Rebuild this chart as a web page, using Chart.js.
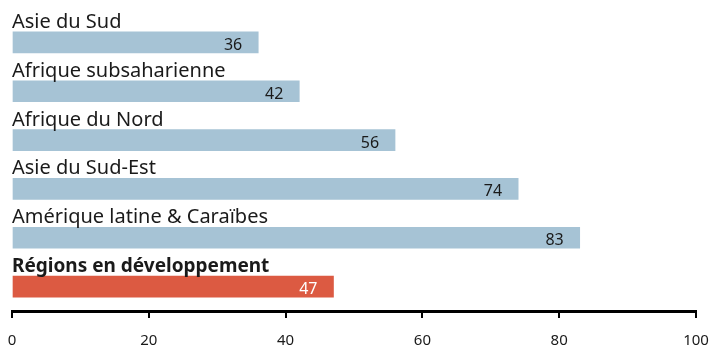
<!DOCTYPE html>
<html>
<head>
<meta charset="utf-8">
<script src="https://cdn.jsdelivr.net/npm/chart.js@4.4.0/dist/chart.umd.min.js"></script>
<style>
  body { margin: 0; background: #fff; }
  #wrap { width: 711px; height: 352px; }
</style>
</head>
<body>
<div id="wrap"><canvas id="chart"></canvas></div>
<script>
const regions = ['Asie du Sud', 'Afrique subsaharienne', 'Afrique du Nord', 'Asie du Sud-Est', 'Amérique latine & Caraïbes', 'Régions en développement']
const values = [36, 42, 56, 74, 83, 47]
const barColors = ['#a6c3d5', '#a6c3d5', '#a6c3d5', '#a6c3d5', '#a6c3d5', '#dc5a42']
const xTicks = [0, 20, 40, 60, 80, 100]

const FONT = '"Noto Sans", sans-serif'

// region name above each bar, value inside the bar end
const barText = {
    id: 'barText',
    afterDatasetsDraw(chart) {
        const ctx = chart.ctx
        const meta = chart.getDatasetMeta(0)
        const left = chart.scales.x.getPixelForValue(0)
        ctx.save()
        meta.data.forEach((bar, i) => {
            const top = bar.y - bar.height / 2
            const bottom = bar.y + bar.height / 2
            const last = i == regions.length - 1
            ctx.textAlign = 'left'
            ctx.textBaseline = 'alphabetic'
            ctx.fillStyle = '#1a1a1a'
            ctx.font = last ? 'bold 19px ' + FONT : '20px ' + FONT
            ctx.fillText(regions[i], left, top - 4)
            ctx.textAlign = 'right'
            ctx.font = '16px ' + FONT
            ctx.fillStyle = last ? '#ffffff' : '#1a1a1a'
            ctx.fillText(values[i], bar.x - 16, bottom - 3)
        })
        ctx.restore()
    }
}

new Chart(document.getElementById('chart').getContext('2d'), {
    type: 'bar',
    data: {
        labels: regions,
        datasets: [{
            data: values,
            backgroundColor: barColors,
            borderWidth: 0,
            barThickness: 21
        }]
    },
    options: {
        indexAxis: 'y',
        responsive: true,
        maintainAspectRatio: false,
        animation: false,
        layout: { padding: { left: 12, right: 15, top: 18, bottom: 0 } },
        plugins: {
            legend: { display: false },
            tooltip: { enabled: false }
        },
        scales: {
            y: { display: false },
            x: {
                min: 0,
                max: 100,
                afterBuildTicks: (axis) => { axis.ticks = xTicks.map(v => ({ value: v })) },
                afterFit: (axis) => {
                    axis.paddingLeft = 0
                    axis.paddingRight = 0
                    axis.height = 41
                },
                border: { display: true, color: '#000', width: 3 },
                grid: { drawOnChartArea: false, drawTicks: true, tickLength: 7, color: '#000', lineWidth: 2 },
                ticks: { color: '#1a1a1a', font: { family: FONT, size: 15 }, padding: 14, maxRotation: 0 }
            }
        }
    },
    plugins: [barText]
})
</script>
</body>
</html>
